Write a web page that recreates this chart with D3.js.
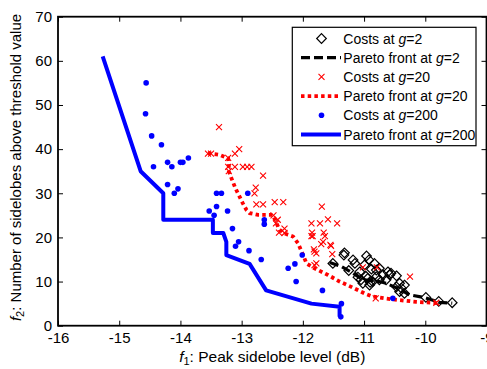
<!DOCTYPE html>
<html><head><meta charset="utf-8">
<script src="https://cdn.jsdelivr.net/npm/d3@7"></script>
<style>
body{margin:0;background:#fff;}
svg{display:block;font-family:"Liberation Sans",Arial,sans-serif;}
</style></head><body>
<svg id="c" width="487" height="369"></svg>
<script>
const xTicks = [-16,-15,-14,-13,-12,-11,-10,-9];
const yTicks = [0,10,20,30,40,50,60,70];

const g2Costs = [[-11.33,16],[-11.51,14.1],[-11.15,14.1],[-10.96,15.8],[-10.92,14.9],[-10.99,13.8],[-10.83,14.1],
 [-11.07,12.2],[-10.88,12.8],[-10.75,13],[-10.61,12.2],[-10.47,11.3],[-10.69,11.5],[-10.8,11.1],[-10.94,10.7],
 [-11.05,10.4],[-10.86,10],[-11.02,9.6],[-10.91,9.2],[-10.75,10.4],[-10.64,10.4],[-10.56,11.9],[-10.42,9.6],
 [-10.39,8.5],[-10.47,8.8],[-10.34,9.2],[-10.42,7.7],[-10.34,7.3],[-9.99,6.4],[-9.78,5.5],[-9.56,5.2],
 [-11.18,14.9],[-11.32,16.5],[-11.25,12.5],[-10.97,11.2],[-10.9,9.8],[-11.1,11],[-10.8,12.6],[-10.58,11.5]];
const g2Front = [[-11.56,14.3],[-11.37,13.4],[-11.18,11.9],[-11.02,10.4],[-10.75,10],[-10.64,9.6],[-10.39,8.1],
 [-10.26,7],[-9.99,6.3],[-9.77,5.3],[-9.56,5.1]];

const g20Costs = [[-13.37,45],[-13.55,39],[-13.5,39],[-13.22,38],[-13.11,39],[-13.04,40],[-13.22,36],[-13.11,36],
 [-12.98,36],[-12.91,36],[-12.84,36],[-12.65,34],[-12.77,31.3],[-12.79,30],[-12.76,27.5],[-12.65,27.5],
 [-12.46,28],[-12.32,28],[-11.69,27],[-12.48,25],[-12.41,24],[-12.44,23.2],[-12.3,22],[-11.86,23.2],
 [-11.72,23.2],[-11.59,24.1],[-11.44,23.2],[-11.86,20.3],[-11.84,20.3],[-11.64,20.3],[-11.67,19],
 [-11.55,18.3],[-11.82,17.3],[-11.78,16.4],[-11.52,16.2],[-12.39,21.1],[-11.85,21.1],[-11.66,21.1],
 [-11.81,16.8],[-11.78,14.1],[-11.7,18.5],[-11.54,18.1],[-11.02,13.2],[-10.79,13.2],[-10.25,11.1],
 [-10.81,6.2],[-9.82,5.2],[-13.21,35],[-12.3,21],[-11.81,13.7]];
const g20Front = [[-13.55,39.1],[-13.36,38.7],[-13.22,37.9],[-13.21,36.4],[-13.21,35],[-13.15,32.8],[-13.1,31.1],
 [-13.04,29.4],[-12.98,27.7],[-12.92,26.2],[-12.87,25.5],[-12.73,25.1],[-12.49,25.1],[-12.43,23.2],
 [-12.38,21.7],[-12.3,20.9],[-12.16,20.2],[-12.08,18.7],[-12.02,16.8],[-11.94,14.1],[-11.81,13],
 [-11.59,11.5],[-11.4,10],[-11.21,8.8],[-10.99,7.3],[-10.86,6.6],[-10.67,6.2],[-10.42,5.8],[-10.15,5.4],
 [-9.77,5.1]];

const g200Costs = [[-14.56,55],[-14.57,48],[-14.47,43],[-14.31,41],[-14.44,36],[-14.21,37],[-14.14,36],
 [-14.0,37],[-13.96,37],[-13.87,38],[-14.21,32],[-14.1,30],[-14.04,31],[-13.41,30],[-13.33,30],[-12.9,30],
 [-13.53,26],[-13.45,25],[-13.41,27],[-13.23,26],[-13.15,22],[-13.05,19],[-13.1,18],[-12.88,17],
 [-12.63,24],[-12.63,23],[-12.68,15],[-12.24,13],[-12.13,14],[-12.01,16],[-12.11,10],[-11.68,8],
 [-11.37,5],[-11.38,2],[-10.53,6.2]];
const g200Front = [[-15.27,61],[-14.65,35],[-14.28,30],[-14.28,24],[-13.47,24],[-13.47,21],[-13.3,21],
 [-13.25,19],[-13.25,16],[-12.87,14],[-12.6,8],[-11.86,5],[-11.4,4.3],[-11.4,2]];

const legendItems = ["2","2","20","20","200","200"];

const svg = d3.select("#c");
const L=58, R=486.5, T=16.7, B=325.7;
const x = d3.scaleLinear().domain([-16,-9]).range([L,R]);
const y = d3.scaleLinear().domain([0,70]).range([B,T]);

const plot = svg.append("g");
const line = d3.line().x(d=>x(d[0])).y(d=>y(d[1]));

function diamond(g, cx, cy){ const r=4.8; g.append("path").attr("d",`M${cx},${cy-r}L${cx+r},${cy}L${cx},${cy+r}L${cx-r},${cy}Z`).attr("fill","none").attr("stroke","#000").attr("stroke-width",1.2); }
function cross(g, cx, cy){ const r=3; g.append("path").attr("d",`M${cx-r},${cy-r}L${cx+r},${cy+r}M${cx-r},${cy+r}L${cx+r},${cy-r}`).attr("stroke","#ff0000").attr("stroke-width",1.1).attr("fill","none"); }
function dot(g, cx, cy){ g.append("circle").attr("cx",cx).attr("cy",cy).attr("r",2.8).attr("fill","#0000ff"); }

g2Costs.forEach(d=>diamond(plot,x(d[0]),y(d[1])));
plot.append("path").datum(g2Front).attr("d",line).attr("fill","none").attr("stroke","#000").attr("stroke-width",3.2).attr("stroke-dasharray","9,4");
g20Costs.forEach(d=>cross(plot,x(d[0]),y(d[1])));
plot.append("path").datum(g20Front).attr("d",line).attr("fill","none").attr("stroke","#ff0000").attr("stroke-width",3.8).attr("stroke-dasharray","3.5,3.2");
g200Costs.forEach(d=>dot(plot,x(d[0]),y(d[1])));
plot.append("path").datum(g200Front).attr("d",line).attr("fill","none").attr("stroke","#0000ff").attr("stroke-width",4).attr("stroke-linejoin","round");

// axes
const fmt = d=>String(d);
const axBottom = svg.append("g").attr("transform",`translate(0,${B})`).call(d3.axisBottom(x).tickValues(xTicks).tickFormat(fmt).tickSizeInner(-5).tickSizeOuter(0).tickPadding(7));
const axLeft = svg.append("g").attr("transform",`translate(${L},0)`).call(d3.axisLeft(y).tickValues(yTicks).tickFormat(fmt).tickSizeInner(-5).tickSizeOuter(0).tickPadding(6));
const axTop = svg.append("g").attr("transform",`translate(0,${T})`).call(d3.axisTop(x).tickValues(xTicks).tickFormat("").tickSizeInner(-5).tickSizeOuter(0));
const axRight = svg.append("g").attr("transform",`translate(${R},0)`).call(d3.axisRight(y).tickValues(yTicks).tickFormat("").tickSizeInner(-5).tickSizeOuter(0));
[axBottom,axLeft,axTop,axRight].forEach(a=>{
  a.select(".domain").remove();
  a.selectAll("text").attr("font-size",15).attr("font-family","Liberation Sans, Arial, sans-serif").attr("fill","#000");
  a.selectAll("line").attr("stroke","#000");
});
svg.append("rect").attr("x",L).attr("y",T).attr("width",R-L).attr("height",B-T).attr("fill","none").attr("stroke","#000").attr("stroke-width",1.8);

// axis labels
const xl = svg.append("text").attr("x",(L+R)/2).attr("y",362).attr("text-anchor","middle").attr("font-size",15.5);
xl.append("tspan").attr("font-style","italic").text("f");
xl.append("tspan").attr("font-size",11).attr("dy",3).text("1");
xl.append("tspan").attr("dy",-3).text(": Peak sidelobe level (dB)");

const yl = svg.append("text").attr("transform",`translate(21,167.5) rotate(-90)`).attr("text-anchor","middle").attr("font-size",15);
yl.append("tspan").attr("font-style","italic").text("f");
yl.append("tspan").attr("font-size",11).attr("dy",3).text("2");
yl.append("tspan").attr("dy",-3).text(": Number of sidelobes above threshold value");

// legend
const lg = svg.append("g");
lg.append("rect").attr("x",292.3).attr("y",27.3).attr("width",183.7).attr("height",118.4).attr("fill","#fff").attr("stroke","#000").attr("stroke-width",1.2);
const labels = ["Costs at ","Pareto front at ","Costs at ","Pareto front at ","Costs at ","Pareto front at "];
const rowY = i => 38.5 + i*19.2;
const mx = 321.5;
diamond(lg, mx, rowY(0));
lg.append("line").attr("x1",301).attr("x2",341).attr("y1",rowY(1)).attr("y2",rowY(1)).attr("stroke","#000").attr("stroke-width",3.2).attr("stroke-dasharray","9,4");
cross(lg, mx, rowY(2));
lg.append("line").attr("x1",301).attr("x2",341).attr("y1",rowY(3)).attr("y2",rowY(3)).attr("stroke","#ff0000").attr("stroke-width",3.8).attr("stroke-dasharray","3.5,3.2");
dot(lg, mx, rowY(4));
lg.append("line").attr("x1",301).attr("x2",341).attr("y1",rowY(5)).attr("y2",rowY(5)).attr("stroke","#0000ff").attr("stroke-width",4);
labels.forEach((t,i)=>{
  const tx = lg.append("text").attr("x",343.3).attr("y",rowY(i)+5).attr("font-size",14);
  tx.append("tspan").text(t);
  tx.append("tspan").attr("font-style","italic").text("g");
  tx.append("tspan").text("="+legendItems[i]);
});
</script>
</body></html>
